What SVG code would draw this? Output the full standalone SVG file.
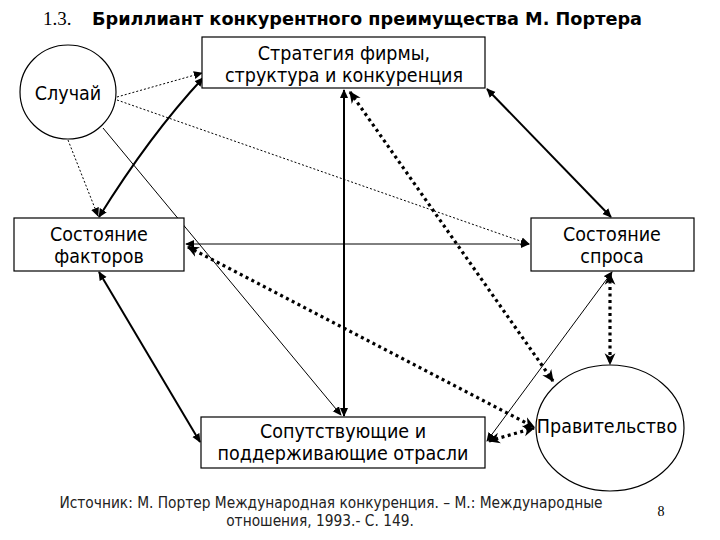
<svg xmlns="http://www.w3.org/2000/svg" width="720" height="540" viewBox="0 0 720 540">
<style>
.box{fill:#fff;stroke:#000;stroke-width:1.2}
.t{font-family:"DejaVu Sans","Verdana",sans-serif;font-stretch:condensed;font-size:19.5px;fill:#000;text-anchor:middle}
.f{font-family:"DejaVu Sans","Verdana",sans-serif;font-stretch:condensed;font-size:15.3px;fill:#222;text-anchor:middle}
.thin{fill:none;stroke:#000;stroke-width:1}
.dot{fill:none;stroke:#000;stroke-width:1;stroke-dasharray:2 2}
.thick{fill:none;stroke:#000;stroke-width:2}
.bdot{fill:none;stroke:#000;stroke-width:3.2;stroke-dasharray:3 3.5}
</style>
<defs>
<marker id="a" viewBox="0 0 10 10" refX="9" refY="5" markerWidth="9" markerHeight="9" markerUnits="userSpaceOnUse" orient="auto-start-reverse"><path d="M0,0.5 L10,5 L0,9.5 z"/></marker>
<marker id="b" viewBox="0 0 10 10" refX="9" refY="5" markerWidth="12" markerHeight="12" markerUnits="userSpaceOnUse" orient="auto-start-reverse"><path d="M0,0.5 L10,5 L0,9.5 L3,5 z"/></marker>
</defs>
<rect width="720" height="540" fill="#fff"/>
<text x="43" y="25" font-family="Liberation Serif,serif" font-size="19">1.3.</text>
<text x="92" y="25" font-family="DejaVu Sans,Verdana,sans-serif" font-weight="bold" font-size="18" textLength="550" lengthAdjust="spacingAndGlyphs">Бриллиант конкурентного преимущества М. Портера</text>
<g id="connectors">
<path class="dot" d="M117,97 L202,73" marker-end="url(#a)"/>
<path class="dot" d="M117,100 L529,244" marker-end="url(#a)"/>
<path class="dot" d="M68,140 L98,216" marker-end="url(#a)"/>
<path class="thin" stroke-width="0.7" d="M103,128 L341,415" marker-end="url(#a)"/>
<path class="thick" d="M203,78 Q150,135 99,217" marker-start="url(#a)" marker-end="url(#a)"/>
<path class="thick" d="M487,89 L611,217" marker-start="url(#a)" marker-end="url(#a)"/>
<path class="thick" d="M344,90 L344,416" marker-start="url(#a)" marker-end="url(#a)"/>
<path class="bdot" d="M350,92 L553,381" marker-start="url(#b)" marker-end="url(#b)"/>
<path class="bdot" d="M188,247 L534,427" marker-start="url(#b)" marker-end="url(#b)"/>
<path class="thin" d="M186,244 L529,244" marker-start="url(#a)" marker-end="url(#a)"/>
<path class="thick" d="M99,272 L200,442" marker-start="url(#a)" marker-end="url(#a)"/>
<path class="thin" stroke-width="1.5" d="M612,272 L487,441" marker-start="url(#a)" marker-end="url(#a)"/>
<path class="bdot" d="M610,274 L610,364" marker-start="url(#b)" marker-end="url(#b)"/>
<path class="bdot" d="M489,441 L534,428" marker-start="url(#b)" marker-end="url(#b)"/>
</g>
<g id="strategy">
<rect class="box" x="202" y="37" width="283" height="51"/>
<text class="t" x="344" y="60" font-size="19">Стратегия фирмы,</text>
<text class="t" x="344" y="82" font-size="19">структура и конкуренция</text>
</g>
<g id="chance">
<ellipse class="box" cx="68" cy="92" rx="48" ry="47" stroke-width="1"/>
<text class="t" x="68" y="100">Случай</text>
</g>
<g id="factors">
<rect class="box" x="14" y="218" width="170" height="53"/>
<text class="t" x="99" y="241">Состояние</text>
<text class="t" x="99" y="263">факторов</text>
</g>
<g id="demand">
<rect class="box" x="531" y="218" width="163" height="53"/>
<text class="t" x="612" y="241">Состояние</text>
<text class="t" x="612" y="263">спроса</text>
</g>
<g id="related">
<rect class="box" x="201" y="417" width="284" height="51"/>
<text class="t" x="343" y="438">Сопутствующие и</text>
<text class="t" x="343" y="460">поддерживающие отрасли</text>
</g>
<g id="government">
<ellipse class="box" cx="610" cy="428" rx="74" ry="63" stroke-width="1"/>
<text class="t" x="607" y="433">Правительство</text>
</g>
<text class="f" x="331" y="508">Источник: М. Портер Международная конкуренция. – М.: Международные</text>
<text class="f" x="320" y="526">отношения, 1993.- С. 149.</text>
<text x="661" y="516" font-family="Liberation Serif,serif" font-size="14" text-anchor="middle">8</text>
</svg>
